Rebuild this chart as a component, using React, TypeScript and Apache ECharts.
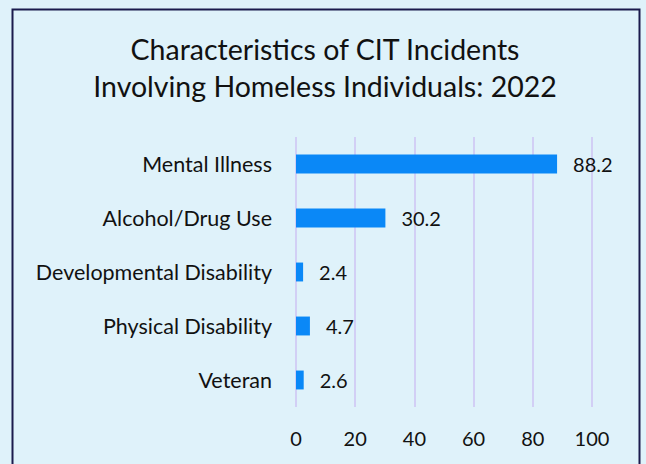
import React, { useEffect, useRef } from "react";
import * as echarts from "echarts";

const categories = ["Mental Illness", "Alcohol/Drug Use", "Developmental Disability", "Physical Disability", "Veteran"];
const values = [88.2, 30.2, 2.4, 4.7, 2.6];
const titleLines = ["Characteristics of CIT Incidents", "Involving Homeless Individuals: 2022"];

export default function App() {
  const ref = useRef<HTMLDivElement>(null);
  useEffect(() => {
    if (!ref.current) return;
    const chart = echarts.init(ref.current, null, { renderer: "svg" });
    const font = "Lato, 'Open Sans', sans-serif";
    chart.setOption({
      animation: false,
      backgroundColor: "#DFF2FA",
      title: {
        text: titleLines.join("\n"),
        left: 320,
        textAlign: "center",
        top: 25,
        textStyle: { fontFamily: font, fontSize: 28.5, fontWeight: "normal", color: "#111", lineHeight: 37 },
      },
      graphic: [
        {
          type: "rect",
          shape: { x: 12.5, y: 9.5, width: 627, height: 470 },
          style: { fill: "none", stroke: "#1B1B4D", lineWidth: 2 },
          silent: true,
        },
      ],
      grid: { left: 296, right: 54, top: 137, bottom: 57, containLabel: false },
      xAxis: {
        type: "value",
        min: 0,
        max: 100,
        interval: 20,
        axisLine: { show: false },
        axisTick: { show: false },
        splitLine: { lineStyle: { color: "#D2CFF5", width: 2 } },
        axisLabel: { fontFamily: font, fontSize: 20, color: "#111", margin: 21 },
      },
      yAxis: {
        type: "category",
        data: categories,
        inverse: true,
        axisLine: { show: false },
        axisTick: { show: false },
        axisLabel: { fontFamily: font, fontSize: 21.5, color: "#111", margin: 24 },
      },
      series: [
        {
          type: "bar",
          data: values,
          barWidth: "35%",
          itemStyle: { color: "#0A88F7" },
          label: {
            show: true,
            position: "right",
            distance: 16,
            fontFamily: font,
            fontSize: 20,
            color: "#111",
          },
        },
      ],
    });
    return () => chart.dispose();
  }, []);
  return <div ref={ref} style={{ position: "fixed", left: 0, top: 0, width: 646, height: 464 }} />;
}
